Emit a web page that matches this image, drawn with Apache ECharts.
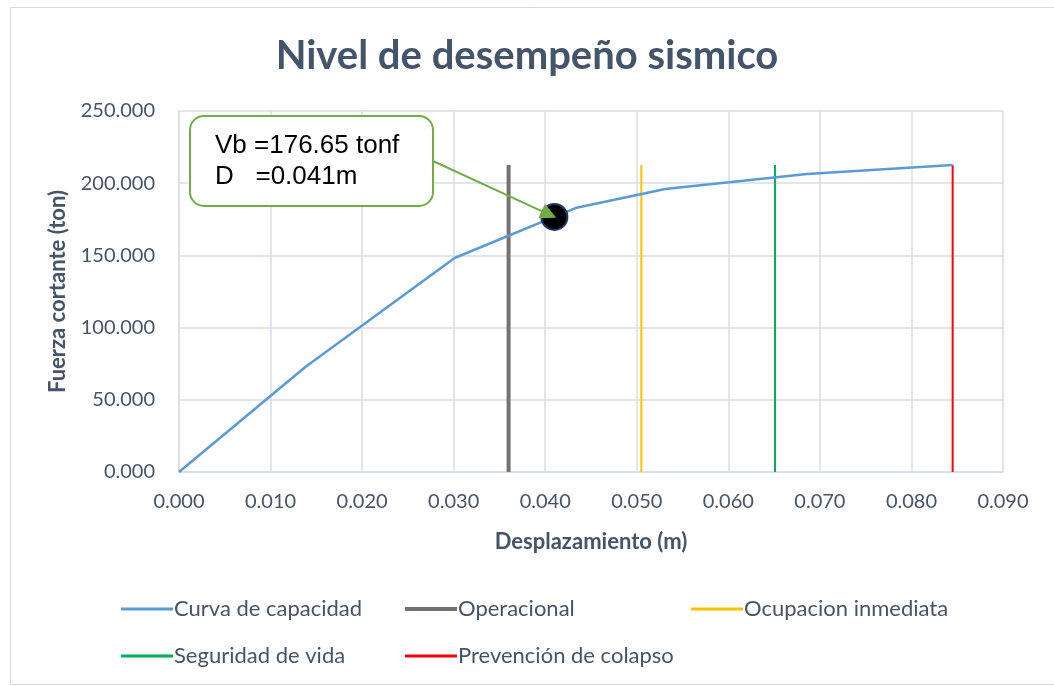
<!DOCTYPE html>
<html>
<head>
<meta charset="utf-8">
<style>
  html, body { margin: 0; padding: 0; background: #ffffff; }
  #chart { width: 1054px; height: 686px; }
</style>
<script src="https://cdn.jsdelivr.net/npm/echarts@6/dist/echarts.min.js"></script>
</head>
<body>
<div id="chart"></div>
<script>
// Capacity curve: displacement (m) vs base shear (ton)
const curveDisp  = [0.0000, 0.0138, 0.0301, 0.0433, 0.0531, 0.0686, 0.0845];
const curveShear = [0.0, 72.7, 148.2, 182.8, 196.0, 206.4, 212.6];

// Performance-level limits (displacement, m)
const levelNames = ['Operacional', 'Ocupacion inmediata', 'Seguridad de vida', 'Prevención de colapso'];
const levelDisp  = [0.0360, 0.0505, 0.0651, 0.0845];
const levelTop   = 212.6;

// Performance point
const perfDisp  = 0.041;
const perfShear = 176.65;

const FONT = 'Lato';
const TXT = '#44546A';
const GRIDC = '#D9DEE6';

const levelColors = ['#767171', '#FFC000', '#00B050', '#FF0000'];
const levelWidths = [4, 2, 2, 2];

const chart = echarts.init(document.getElementById('chart'), null, { renderer: 'canvas' });

const series = [{
  name: 'Curva de capacidad',
  type: 'line',
  data: curveDisp.map((d, i) => [d, curveShear[i]]),
  showSymbol: false,
  symbol: 'none',
  lineStyle: { color: '#5B9BD5', width: 2.5 },
  itemStyle: { color: '#5B9BD5' },
  z: 3
}];
levelNames.forEach((n, i) => {
  series.push({
    name: n,
    type: 'line',
    data: [[levelDisp[i], 0], [levelDisp[i], levelTop]],
    showSymbol: false,
    symbol: 'none',
    lineStyle: { color: levelColors[i], width: levelWidths[i] },
    itemStyle: { color: levelColors[i] },
    z: 2
  });
});
series.push({
  name: 'Punto de desempeño',
  type: 'scatter',
  data: [[perfDisp, perfShear]],
  symbolSize: 26,
  itemStyle: { color: '#000000', borderColor: '#1F3864', borderWidth: 2, opacity: 1 },
  z: 5
});

// Legend layout: two rows, three columns
const legendPos = [
  { left: 116, top: 593 }, { left: 400, top: 593 }, { left: 686, top: 593 },
  { left: 116, top: 640 }, { left: 400, top: 640 }
];
const legendNames = ['Curva de capacidad'].concat(levelNames);
const legendItemH = [3, 4, 3, 3, 3];
const legends = legendNames.map((n, i) => ({
  data: [n],
  left: legendPos[i].left,
  top: legendPos[i].top,
  icon: 'rect',
  itemWidth: 52,
  itemHeight: legendItemH[i],
  itemGap: 0,
  selectedMode: false,
  textStyle: { fontFamily: FONT, fontSize: 22, color: TXT, padding: [0, 0, 0, -4] }
}));

chart.setOption({
  animation: false,
  backgroundColor: '#ffffff',
  title: {
    text: 'Nivel de desempeño sismico',
    left: 'center',
    top: 31,
    textStyle: { fontFamily: FONT, fontWeight: 'bold', fontSize: 40, color: TXT }
  },
  legend: legends,
  grid: { left: 179, right: 51, top: 111, bottom: 214 },
  xAxis: {
    type: 'value',
    min: 0, max: 0.09, interval: 0.01,
    name: 'Desplazamiento (m)',
    nameLocation: 'middle',
    nameGap: 59,
    nameTextStyle: { fontFamily: FONT, fontWeight: 'bold', fontSize: 22, color: TXT },
    axisLine: { show: true, lineStyle: { color: GRIDC, width: 1.5 } },
    axisTick: { show: false },
    axisLabel: {
      fontFamily: FONT, fontSize: 20, color: TXT, margin: 20,
      formatter: v => v.toFixed(3)
    },
    splitLine: { show: true, lineStyle: { color: GRIDC, width: 1.5 } }
  },
  yAxis: {
    type: 'value',
    min: 0, max: 250, interval: 50,
    name: 'Fuerza cortante (ton)',
    nameLocation: 'middle',
    nameGap: 110,
    nameTextStyle: { fontFamily: FONT, fontWeight: 'bold', fontSize: 22, color: TXT },
    axisLine: { show: true, lineStyle: { color: GRIDC, width: 1.5 } },
    axisTick: { show: false },
    axisLabel: {
      fontFamily: FONT, fontSize: 20, color: TXT, margin: 24,
      formatter: v => v.toFixed(3)
    },
    splitLine: { show: true, lineStyle: { color: GRIDC, width: 1.5 } }
  },
  series: series
});

// Callout box with arrow pointing at the performance point
const pt = chart.convertToPixel({ gridIndex: 0 }, [perfDisp, perfShear]);
const box = { x: 190, y: 116, w: 243, h: 90 };
const start = [box.x + box.w, box.y + box.h / 2];
const dx = pt[0] - start[0], dy = pt[1] - start[1];
const len = Math.sqrt(dx * dx + dy * dy);
const ux = dx / len, uy = dy / len;
const tip = [pt[0] + ux * 2, pt[1] + uy * 2];
const headL = 16, headW = 8;
const base = [tip[0] - ux * headL, tip[1] - uy * headL];
const head = [
  tip,
  [base[0] - uy * headW, base[1] + ux * headW],
  [base[0] + uy * headW, base[1] - ux * headW]
];

chart.setOption({
  graphic: [
    {
      type: 'rect',
      left: 8, top: 5,
      shape: { width: 1044, height: 677 },
      style: { fill: 'none', stroke: '#D9D9D9', lineWidth: 1 },
      silent: true, z: -10
    },
    {
      type: 'line',
      shape: { x1: start[0], y1: start[1], x2: base[0], y2: base[1] },
      style: { stroke: '#70AD47', lineWidth: 2 },
      z: 100
    },
    {
      type: 'polygon',
      shape: { points: head },
      style: { fill: '#70AD47' },
      z: 101
    },
    {
      type: 'rect',
      shape: { x: box.x, y: box.y, width: box.w, height: box.h, r: 14 },
      style: { fill: '#ffffff', stroke: '#70AD47', lineWidth: 2 },
      z: 100
    },
    {
      type: 'text',
      x: 215, y: 130,
      style: {
        text: 'Vb =' + perfShear.toFixed(2) + ' tonf\nD   =' + perfDisp.toFixed(3) + 'm',
        font: '26px "Liberation Sans", Arial, sans-serif',
        fill: '#000000',
        lineHeight: 31
      },
      z: 102
    }
  ]
});
</script>
</body>
</html>
